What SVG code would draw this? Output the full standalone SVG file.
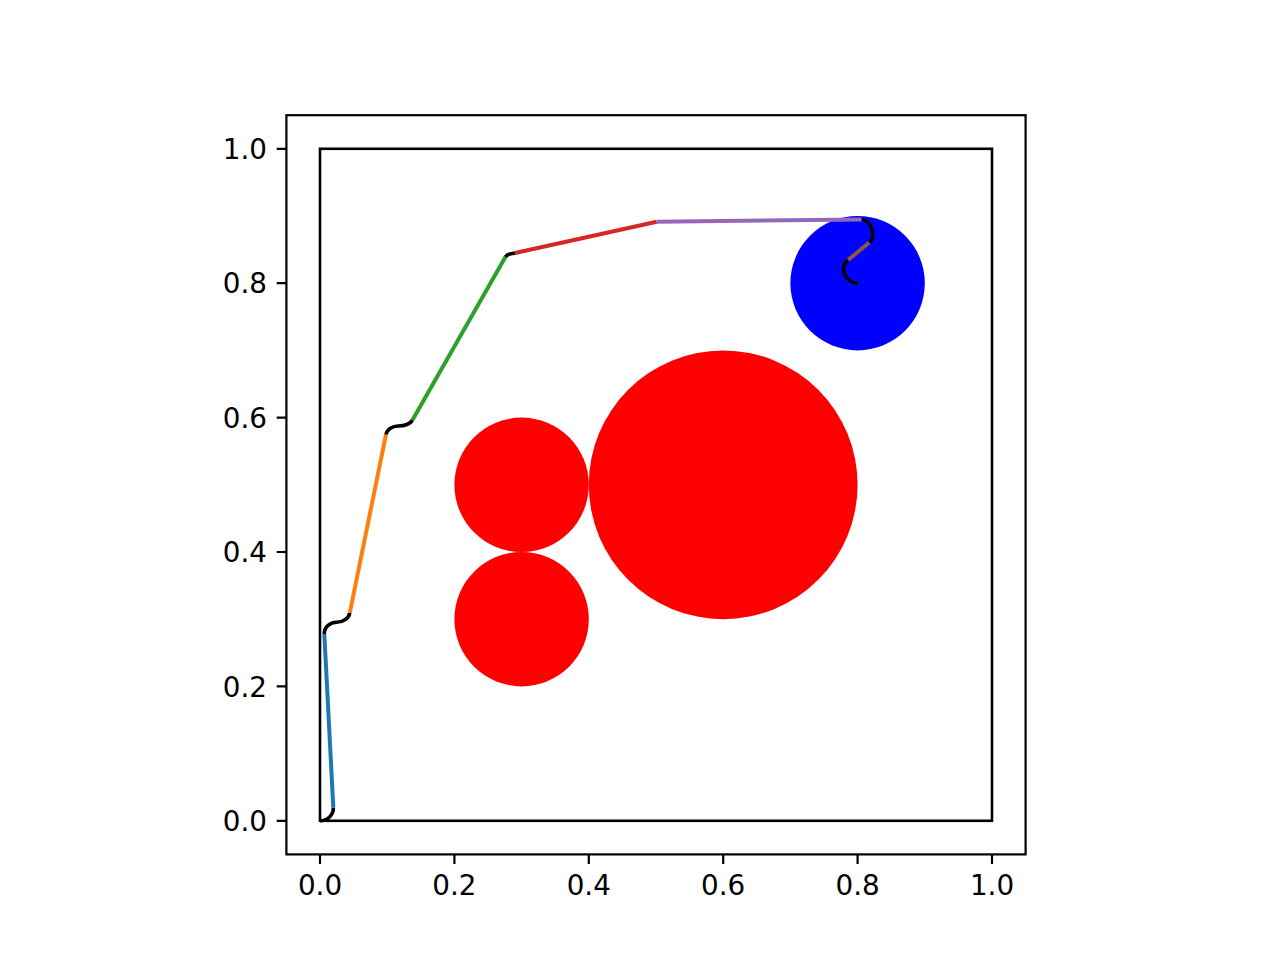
<svg xmlns="http://www.w3.org/2000/svg" width="1280" height="960" viewBox="0 0 1280 960">
<style>
.tick{stroke:#000;stroke-width:2.2}
.lbl{font-family:"DejaVu Sans",sans-serif;font-size:27.8px;fill:#000}
.xl{text-anchor:middle}
.yl{text-anchor:end}
.seg{fill:none;stroke-width:4;stroke-linecap:butt}
.arc{fill:none;stroke:#000;stroke-width:3.6}
</style>
<rect width="1280" height="960" fill="#fff"/>
<g id="obstacles">
<circle id="obs1" cx="521.6" cy="484.8" r="67.2" fill="#ff0000"/>
<circle id="obs2" cx="521.6" cy="619.2" r="67.2" fill="#ff0000"/>
<circle id="obs3" cx="723.2" cy="484.8" r="134.4" fill="#ff0000"/>
<circle id="goal" cx="857.6" cy="283.2" r="67.2" fill="#0000ff"/>
</g>
<g id="boundary">
<rect x="320" y="148.8" width="672" height="672" fill="none" stroke="#000" stroke-width="2.6"/>
</g>
<g id="path">
<path class="arc" d="M320,820.8 C327.3,820.8 333.7,814.9 333.3,807.6"/>
<path class="seg" stroke="#1f77b4" d="M333.3,807.6 L324.3,634"/>
<path class="arc" d="M324.3,634 C323.96,627.4 329.9,622.3 336.5,622.3 C342.6,622.3 348.6,618.8 349.8,612.8"/>
<path class="seg" stroke="#ff7f0e" d="M349.8,612.8 L386,434.5"/>
<path class="arc" d="M386,434.5 C387.1,429.1 392.5,426 398,426 C403.6,426 409.7,424.9 412.5,420"/>
<path class="seg" stroke="#2ca02c" d="M412.5,420 L505.4,257"/>
<path class="arc" d="M505.4,257 C507.4,253.5 511.1,253.9 515,253"/>
<path class="seg" stroke="#d62728" d="M515,253 L656.7,221.7"/>
<path class="seg" stroke="#9467bd" d="M656.7,221.7 L861.7,219.5"/>
<path class="arc" d="M861.7,219.5 C870,219.5 877.5,236.3 869.3,242.5"/>
<path class="seg" stroke="#8c564b" d="M869.3,242.5 L848,260"/>
<path class="arc" d="M848,260 C838.6,267.7 845.4,283.2 857.6,283.2"/>
</g>
<g id="axes">
<rect x="286.4" y="115.2" width="739.2" height="739.2" fill="none" stroke="#000" stroke-width="2.2"/>
<path class="tick" d="M320,854.4v9.7M454.4,854.4v9.7M588.8,854.4v9.7M723.2,854.4v9.7M857.6,854.4v9.7M992,854.4v9.7"/>
<path class="tick" d="M286.4,820.8h-9.7M286.4,686.4h-9.7M286.4,552h-9.7M286.4,417.6h-9.7M286.4,283.2h-9.7M286.4,148.8h-9.7"/>
<text class="lbl xl" x="320" y="895">0.0</text>
<text class="lbl xl" x="454.4" y="895">0.2</text>
<text class="lbl xl" x="588.8" y="895">0.4</text>
<text class="lbl xl" x="723.2" y="895">0.6</text>
<text class="lbl xl" x="857.6" y="895">0.8</text>
<text class="lbl xl" x="992" y="895">1.0</text>
<text class="lbl yl" x="267" y="831">0.0</text>
<text class="lbl yl" x="267" y="696.6">0.2</text>
<text class="lbl yl" x="267" y="562.2">0.4</text>
<text class="lbl yl" x="267" y="427.8">0.6</text>
<text class="lbl yl" x="267" y="293.4">0.8</text>
<text class="lbl yl" x="267" y="159">1.0</text>
</g>
</svg>
